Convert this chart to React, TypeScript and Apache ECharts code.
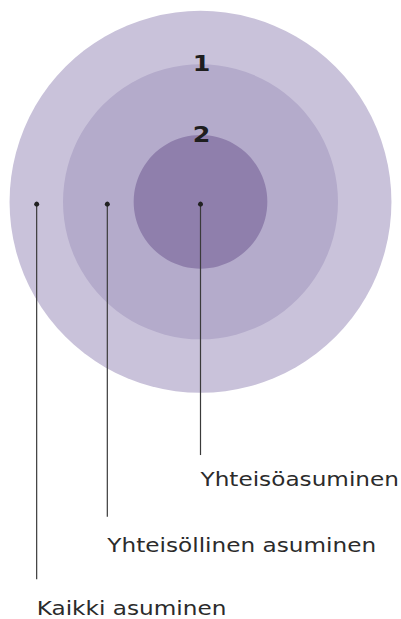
import React, { useEffect, useRef } from "react";
import * as echarts from "echarts";

// Categories (outermost to innermost)
const categories = ["Kaikki asuminen", "Yhteisöllinen asuminen", "Yhteisöasuminen"];
// Relative radius of each circle (outer = 100)
const radii = [100, 72, 35];
// Ring numbers shown at the top edge of each circle
const ringNumbers = ["", "1", "2"];
const colors = ["#c9c2da", "#b4abcb", "#8f7fac"];

// Annotation anchors (data units)
const anchorX = [-85.8, -48.8, 0];
const anchorY = -1.2;
const leaderEndY = [-197.7, -164.9, -132.6];
const labelY = [-213.0, -179.7, -145.5];

const PX_PER_UNIT = 401 / 210;
const Y_MAX = 105.7;
const Y_MIN = Y_MAX - 619 / PX_PER_UNIT;

export default function App() {
  const ref = useRef<HTMLDivElement>(null);
  useEffect(() => {
    if (!ref.current) return;
    const chart = echarts.init(ref.current, null, { renderer: "svg" });
    const circleData = categories.map((c, i) => [0, 0, radii[i], i]);
    const annoData = categories.map((c, i) => [anchorX[i], anchorY, leaderEndY[i], labelY[i], i]);
    const numData = categories
      .map((c, i) => [0, radii[i], i])
      .filter((d) => ringNumbers[d[2] as number] !== "");

    chart.setOption({
      animation: false,
      grid: { left: 0, right: 0, top: 0, bottom: 0 },
      xAxis: { type: "value", min: -105, max: 105, show: false },
      yAxis: { type: "value", min: Y_MIN, max: Y_MAX, show: false },
      series: [
        {
          type: "custom",
          silent: true,
          data: circleData,
          renderItem: (params: any, api: any) => {
            const c = api.coord([api.value(0), api.value(1)]);
            const r = api.size([api.value(2), 0])[0];
            const i = api.value(3);
            return {
              type: "circle",
              shape: { cx: c[0], cy: c[1], r },
              style: { fill: colors[i] },
            };
          },
        },
        {
          type: "custom",
          silent: true,
          data: numData,
          renderItem: (params: any, api: any) => {
            const c = api.coord([api.value(0), api.value(1)]);
            const i = api.value(2);
            return {
              type: "text",
              x: c[0] + 1,
              y: c[1] - 0.5,
              scaleX: 1.15,
              style: {
                text: ringNumbers[i],
                fill: "#1e1e1e",
                font: 'bold 22px "DejaVu Sans"',
                align: "center",
                verticalAlign: "middle",
              },
            };
          },
        },
        {
          type: "custom",
          silent: true,
          data: annoData,
          renderItem: (params: any, api: any) => {
            const a = api.coord([api.value(0), api.value(1)]);
            const e = api.coord([api.value(0), api.value(2)]);
            const l = api.coord([api.value(0), api.value(3)]);
            const i = api.value(4);
            return {
              type: "group",
              children: [
                {
                  type: "line",
                  shape: { x1: a[0], y1: a[1], x2: e[0], y2: e[1] },
                  style: { stroke: "#3a3a3a", lineWidth: 1.2 },
                },
                {
                  type: "circle",
                  shape: { cx: a[0], cy: a[1], r: 2.5 },
                  style: { fill: "#222222" },
                },
                {
                  type: "text",
                  x: l[0],
                  y: l[1],
                  scaleX: 1.22,
                  style: {
                    text: categories[i],
                    fill: "#2b2b2b",
                    font: '19px "DejaVu Sans"',
                    align: "left",
                    verticalAlign: "middle",
                  },
                },
              ],
            };
          },
        },
      ],
    });
    return () => chart.dispose();
  }, []);
  return (
    <div
      ref={ref}
      style={{ position: "absolute", left: 0, top: 0, width: 401, height: 619, background: "#ffffff" }}
    />
  );
}
